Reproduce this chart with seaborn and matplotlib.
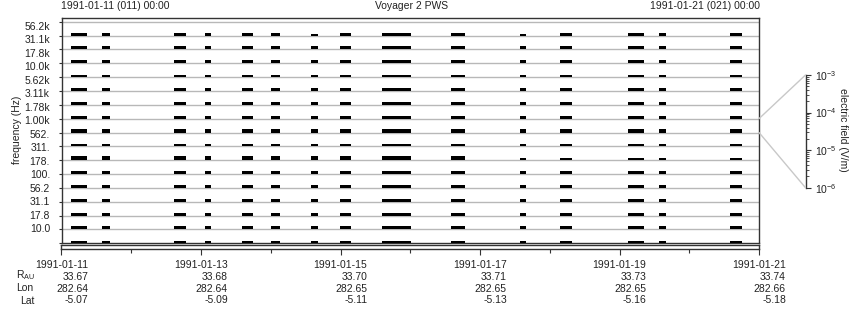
import numpy as np
import pandas as pd
import matplotlib
matplotlib.use("Agg")
import matplotlib.pyplot as plt
import seaborn as sns
from matplotlib.patches import ConnectionPatch

# ---------------- data ----------------
FREQ_LABELS = ["10.0", "17.8", "31.1", "56.2", "100.", "178.", "311.", "562.",
               "1.00k", "1.78k", "3.11k", "5.62k", "10.0k", "17.8k", "31.1k", "56.2k"]

# data segments (hours after 1991-01-11 00:00)
SEG_START_H = [3.1, 13.8, 38.5, 49.2, 62.0, 71.9, 85.7, 95.7, 110.1, 133.9, 157.6, 171.4, 194.8, 205.5, 229.9]
SEG_DUR_H = [5.5, 2.7, 4.1, 2.1, 3.8, 3.1, 2.4, 3.8, 10.0, 4.8, 2.1, 4.1, 5.5, 2.4, 4.1]

# electric field amplitude (micro V/m) per channel (bottom -> top) per segment
AMP_10_0 = [3.5, 3.5, 3.5, 3.5, 3.5, 3.5, 3.5, 3.5, 3.5, 3.5, 3.5, 3.5, 3.5, 3.5, 3.5]
AMP_17_8 = [4.5, 4.5, 4.5, 4.5, 4.5, 4.5, 4.5, 4.5, 4.5, 4.5, 4.5, 4.5, 4.5, 4.5, 4.5]
AMP_31_1 = [4.5, 4.5, 4.5, 4.5, 4.5, 4.5, 4.5, 4.5, 4.5, 4.5, 4.5, 4.5, 4.5, 4.5, 4.5]
AMP_56_2 = [4.5, 4.5, 4.5, 4.5, 4.5, 4.5, 3.5, 4.5, 4.0, 4.0, 3.5, 4.0, 4.5, 4.5, 4.0]
AMP_100 = [4.5, 4.5, 4.5, 4.5, 4.5, 4.5, 4.5, 4.5, 4.5, 4.5, 4.5, 4.5, 4.5, 4.5, 4.5]
AMP_178 = [5.0, 4.5, 5.0, 4.5, 5.0, 4.5, 5.0, 5.0, 5.0, 5.0, 4.5, 5.0, 5.0, 5.0, 5.0]
AMP_311 = [6.5, 6.5, 6.5, 6.5, 6.5, 6.5, 6.5, 6.5, 6.5, 6.5, 2.7, 2.7, 2.7, 2.7, 2.7]
AMP_562 = [3.0, 3.0, 3.0, 3.0, 3.0, 3.0, 3.0, 3.0, 3.0, 3.0, 3.0, 3.0, 3.0, 3.0, 3.0]
AMP_1_00K = [4.5, 4.5, 4.5, 4.5, 4.5, 4.5, 4.5, 4.5, 4.5, 4.5, 4.5, 4.5, 5.0, 4.5, 4.5]
AMP_1_78K = [4.5, 4.5, 4.5, 4.5, 4.5, 4.5, 4.5, 4.5, 4.5, 4.5, 4.5, 4.5, 4.5, 4.5, 4.5]
AMP_3_11K = [3.5, 3.5, 3.5, 3.5, 3.5, 3.5, 3.5, 3.5, 3.5, 3.5, 3.5, 3.5, 3.5, 3.5, 3.5]
AMP_5_62K = [3.5, 3.5, 3.5, 3.5, 3.5, 3.5, 3.5, 3.5, 3.5, 3.5, 3.5, 3.5, 3.5, 3.5, 3.5]
AMP_10_0K = [3.5, 3.5, 3.5, 3.5, 3.5, 3.5, 3.5, 3.5, 3.5, 3.5, 3.5, 3.5, 3.5, 3.5, 3.5]
AMP_17_8K = [4.5, 4.5, 4.5, 4.5, 4.5, 4.5, 4.5, 4.5, 4.5, 4.5, 4.5, 4.5, 4.5, 4.5, 4.5]
AMP_31_1K = [4.5, 4.5, 4.5, 4.5, 4.5, 4.5, 4.5, 4.5, 4.5, 4.5, 4.5, 4.5, 4.5, 4.5, 4.5]
AMP_56_2K = [4.5, 4.5, 4.5, 4.5, 4.5, 4.5, 2.7, 4.5, 4.5, 4.5, 2.7, 4.5, 4.5, 4.5, 4.5]
AMPS = [AMP_10_0, AMP_17_8, AMP_31_1, AMP_56_2, AMP_100, AMP_178, AMP_311, AMP_562,
        AMP_1_00K, AMP_1_78K, AMP_3_11K, AMP_5_62K, AMP_10_0K, AMP_17_8K, AMP_31_1K, AMP_56_2K]

DATE_LABELS = ["1991-01-11", "1991-01-13", "1991-01-15", "1991-01-17", "1991-01-19", "1991-01-21"]
DATE_DAYS = [0, 2, 4, 6, 8, 10]
R_AU = ["33.67", "33.68", "33.70", "33.71", "33.73", "33.74"]
LON = ["282.64", "282.64", "282.65", "282.65", "282.65", "282.66"]
LAT = ["-5.07", "-5.09", "-5.11", "-5.13", "-5.16", "-5.18"]

# ---------------- style ----------------
sns.set_style("white")
FONT = ["Liberation Sans", "DejaVu Sans"]
plt.rcParams["font.family"] = FONT
plt.rcParams["mathtext.fontset"] = "custom"
plt.rcParams["mathtext.rm"] = "Liberation Sans"
plt.rcParams["mathtext.it"] = "Liberation Sans"
FS = 7.5
TXT = "#222222"
GRID = "#b8b8b8"
FRAME = "#333333"

W, H = 860, 320
fig = plt.figure(figsize=(W / 100, H / 100), dpi=100)


def px_rect(x0, y0, x1, y1):
    return [x0 / W, 1 - y1 / H, (x1 - x0) / W, (y1 - y0) / H]


# main panel
ax = fig.add_axes(px_rect(62, 17.7, 759, 243.3))
rows = []
for ch, amps in enumerate(AMPS):
    for s, d, a in zip(SEG_START_H, SEG_DUR_H, amps):
        rows.append({"ch": ch, "start": s / 24.0, "dur": d / 24.0,
                     "h": (np.log10(a * 1e-6) + 6.0) / 3.0})
df = pd.DataFrame(rows)

for k in range(1, 17):
    ax.axhline(k, color=GRID, lw=1.0, zorder=1)
ax.bar(df["start"], df["h"], width=df["dur"], bottom=df["ch"], align="edge",
       color="black", linewidth=0, zorder=3)

ax.set_xlim(0, 10)
ax.set_ylim(0, 16.29)
ax.set_xticks([])
ax.set_yticks(range(0, 17))
ax.set_yticklabels([])
ax.tick_params(axis="y", direction="out", length=2.5, width=0.8, color=FRAME, left=True)
for sp in ax.spines.values():
    sp.set_color(FRAME)
    sp.set_linewidth(1.0)
label_pos = np.linspace(1.03, 15.64, 16)
for yy, lab in zip(label_pos, FREQ_LABELS):
    ax.text(-12 / 697, yy, lab, transform=ax.get_yaxis_transform(), ha="right", va="center",
            fontsize=FS, color=TXT)
fig.text(17 / W, 1 - 130 / H, "frequency (Hz)", rotation=90,
         ha="center", va="center", fontsize=FS, color=TXT)
fig.text(61 / W, 1 - 6 / H, "1991-01-11 (011) 00:00", ha="left",
         va="center", fontsize=FS, color=TXT)
fig.text(412 / W, 1 - 6 / H, "Voyager 2 PWS", ha="center",
         va="center", fontsize=FS, color=TXT)
fig.text(760 / W, 1 - 6 / H, "1991-01-21 (021) 00:00", ha="right",
         va="center", fontsize=FS, color=TXT)

# time strip with ticks
ax2 = fig.add_axes(px_rect(61.5, 245, 759, 249))
ax2.set_xlim(0, 10)
ax2.set_yticks([])
for sp in ax2.spines.values():
    sp.set_color(FRAME)
    sp.set_linewidth(1.0)
ax2.set_xticks(DATE_DAYS)
ax2.set_xticks([1, 3, 5, 7, 9], minor=True)
ax2.set_xticklabels([f"{d}\n{r}\n{lo}\n{la}" for d, r, lo, la in zip(DATE_LABELS, R_AU, LON, LAT)],
                    multialignment="right", linespacing=1.22, fontsize=FS, color=TXT)
ax2.tick_params(axis="x", which="major", direction="out", length=4.5, width=0.8, color=FRAME, pad=3.5, bottom=True)
ax2.tick_params(axis="x", which="minor", direction="out", length=3, width=0.8, color=FRAME, bottom=True)

fig.text(26 / W, 1 - 275 / H, r"R$_{\mathregular{AU}}$", ha="center", va="center", fontsize=FS, color=TXT)
fig.text(25 / W, 1 - 288 / H, "Lon", ha="center", va="center", fontsize=FS, color=TXT)
fig.text(27 / W, 1 - 301 / H, "Lat", ha="center", va="center", fontsize=FS, color=TXT)

# electric field scale
cax = fig.add_axes(px_rect(805.5, 75, 806, 187.7))
cax.set_yscale("log")
cax.set_ylim(1e-6, 1e-3)
cax.set_xticks([])
cax.yaxis.tick_right()
cax.yaxis.set_label_position("right")
for name, sp in cax.spines.items():
    sp.set_visible(name == "right")
    sp.set_color(FRAME)
    sp.set_linewidth(1.0)
cax.set_yticks([1e-6, 1e-5, 1e-4, 1e-3])
cax.set_yticklabels([r"10$^{\mathregular{-6}}$", r"10$^{\mathregular{-5}}$",
                     r"10$^{\mathregular{-4}}$", r"10$^{\mathregular{-3}}$"], fontsize=FS, color=TXT)
cax.tick_params(axis="y", which="major", direction="out", length=3.5, width=0.8, color=FRAME, pad=3)
cax.tick_params(axis="y", which="minor", direction="out", length=2, width=0.6, color=FRAME)
fig.text(843 / W, 1 - 130 / H, "electric field (V/m)", rotation=270, ha="center", va="center",
         fontsize=FS, color=TXT)

for yA, yB in [(9, 1e-3), (8, 1e-6)]:
    con = ConnectionPatch(xyA=(10, yA), coordsA=ax.transData, xyB=(0, yB),
                          coordsB=cax.get_yaxis_transform(), color="#c8c8c8", lw=1.0)
    fig.add_artist(con)

fig.savefig("out.png", dpi=100)
